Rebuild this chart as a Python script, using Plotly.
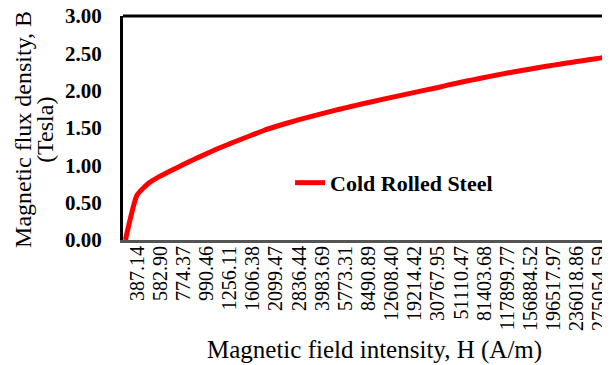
import plotly.graph_objects as go

# Tick labels shown on the category axis (every second category is labelled)
h_labels = ["387.14", "582.90", "774.37", "990.46", "1256.11", "1606.38", "2099.47",
            "2836.44", "3983.69", "5773.31", "8490.89", "12608.40", "19214.42",
            "30767.95", "51110.47", "81403.68", "117899.77", "156884.52",
            "196517.97", "236018.86", "275054.59"]
label_positions = list(range(1, 2 * len(h_labels), 2))

# Magnetic flux density B (Tesla) read per category index
b_values = [0.00, 0.60, 0.76, 0.855, 0.935, 1.01, 1.085, 1.155, 1.225, 1.288,
            1.35, 1.41, 1.47, 1.52, 1.567, 1.612, 1.653, 1.693, 1.732, 1.77,
            1.806, 1.842, 1.876, 1.91, 1.944, 1.977, 2.01, 2.043, 2.08, 2.112,
            2.145, 2.176, 2.206, 2.236, 2.264, 2.291, 2.317, 2.342, 2.366, 2.39,
            2.413, 2.436, 2.459]
cat_index = list(range(len(b_values)))

serif = "Liberation Serif"

fig = go.Figure()
fig.add_trace(go.Scatter(x=cat_index, y=b_values, mode="lines",
                         name="Cold Rolled Steel",
                         line=dict(color="#ff0000", width=5, shape="spline", smoothing=0.5)))

# page body has an 8px margin, so the figure is offset by 8px
fig.update_layout(
    width=602, height=357,
    margin=dict(l=115, r=0, t=8, b=125),
    paper_bgcolor="white", plot_bgcolor="white",
    showlegend=True,
    legend=dict(x=0.343, y=0.255, xanchor="left", yanchor="middle",
                bgcolor="rgba(0,0,0,0)",
                font=dict(family=serif, size=22, color="black", weight="bold")),
    xaxis=dict(range=[-0.21, 41.87], tickvals=label_positions, ticktext=h_labels,
               tickangle=-90, showgrid=False, zeroline=False,
               showline=True, linecolor="#555555", linewidth=3,
               tickfont=dict(family=serif, size=20, color="black"),
               ticks="", ticklen=0, ticklabelstandoff=-5, automargin=False,
               ticklabeloverflow="allow"),
    yaxis=dict(range=[0, 3], dtick=0.5, tickformat=".2f", showgrid=False,
               zeroline=False, showline=True, linecolor="black", linewidth=3,
               tickfont=dict(family=serif, size=21, color="black", weight="bold"),
               ticks="", ticklen=0, ticklabelstandoff=14, automargin=False,
               ticklabeloverflow="allow"),
    shapes=[dict(type="line", xref="paper", yref="paper", x0=0, x1=1, y0=1, y1=1,
                 line=dict(color="black", width=3))],
    annotations=[
        dict(text="Magnetic flux density, B", textangle=-90,
             xref="paper", yref="paper", x=-0.205, y=0.492,
             xanchor="center", yanchor="middle", showarrow=False,
             font=dict(family=serif, size=24, color="black")),
        dict(text="(Tesla)", textangle=-90,
             xref="paper", yref="paper", x=-0.160, y=0.492,
             xanchor="center", yanchor="middle", showarrow=False,
             font=dict(family=serif, size=24, color="black")),
        dict(text="Magnetic field intensity, H (A/m)",
             xref="paper", yref="paper", x=0.517, y=-0.492,
             xanchor="center", yanchor="middle", showarrow=False,
             font=dict(family=serif, size=25, color="black")),
    ],
)

fig.write_html("out.html")
